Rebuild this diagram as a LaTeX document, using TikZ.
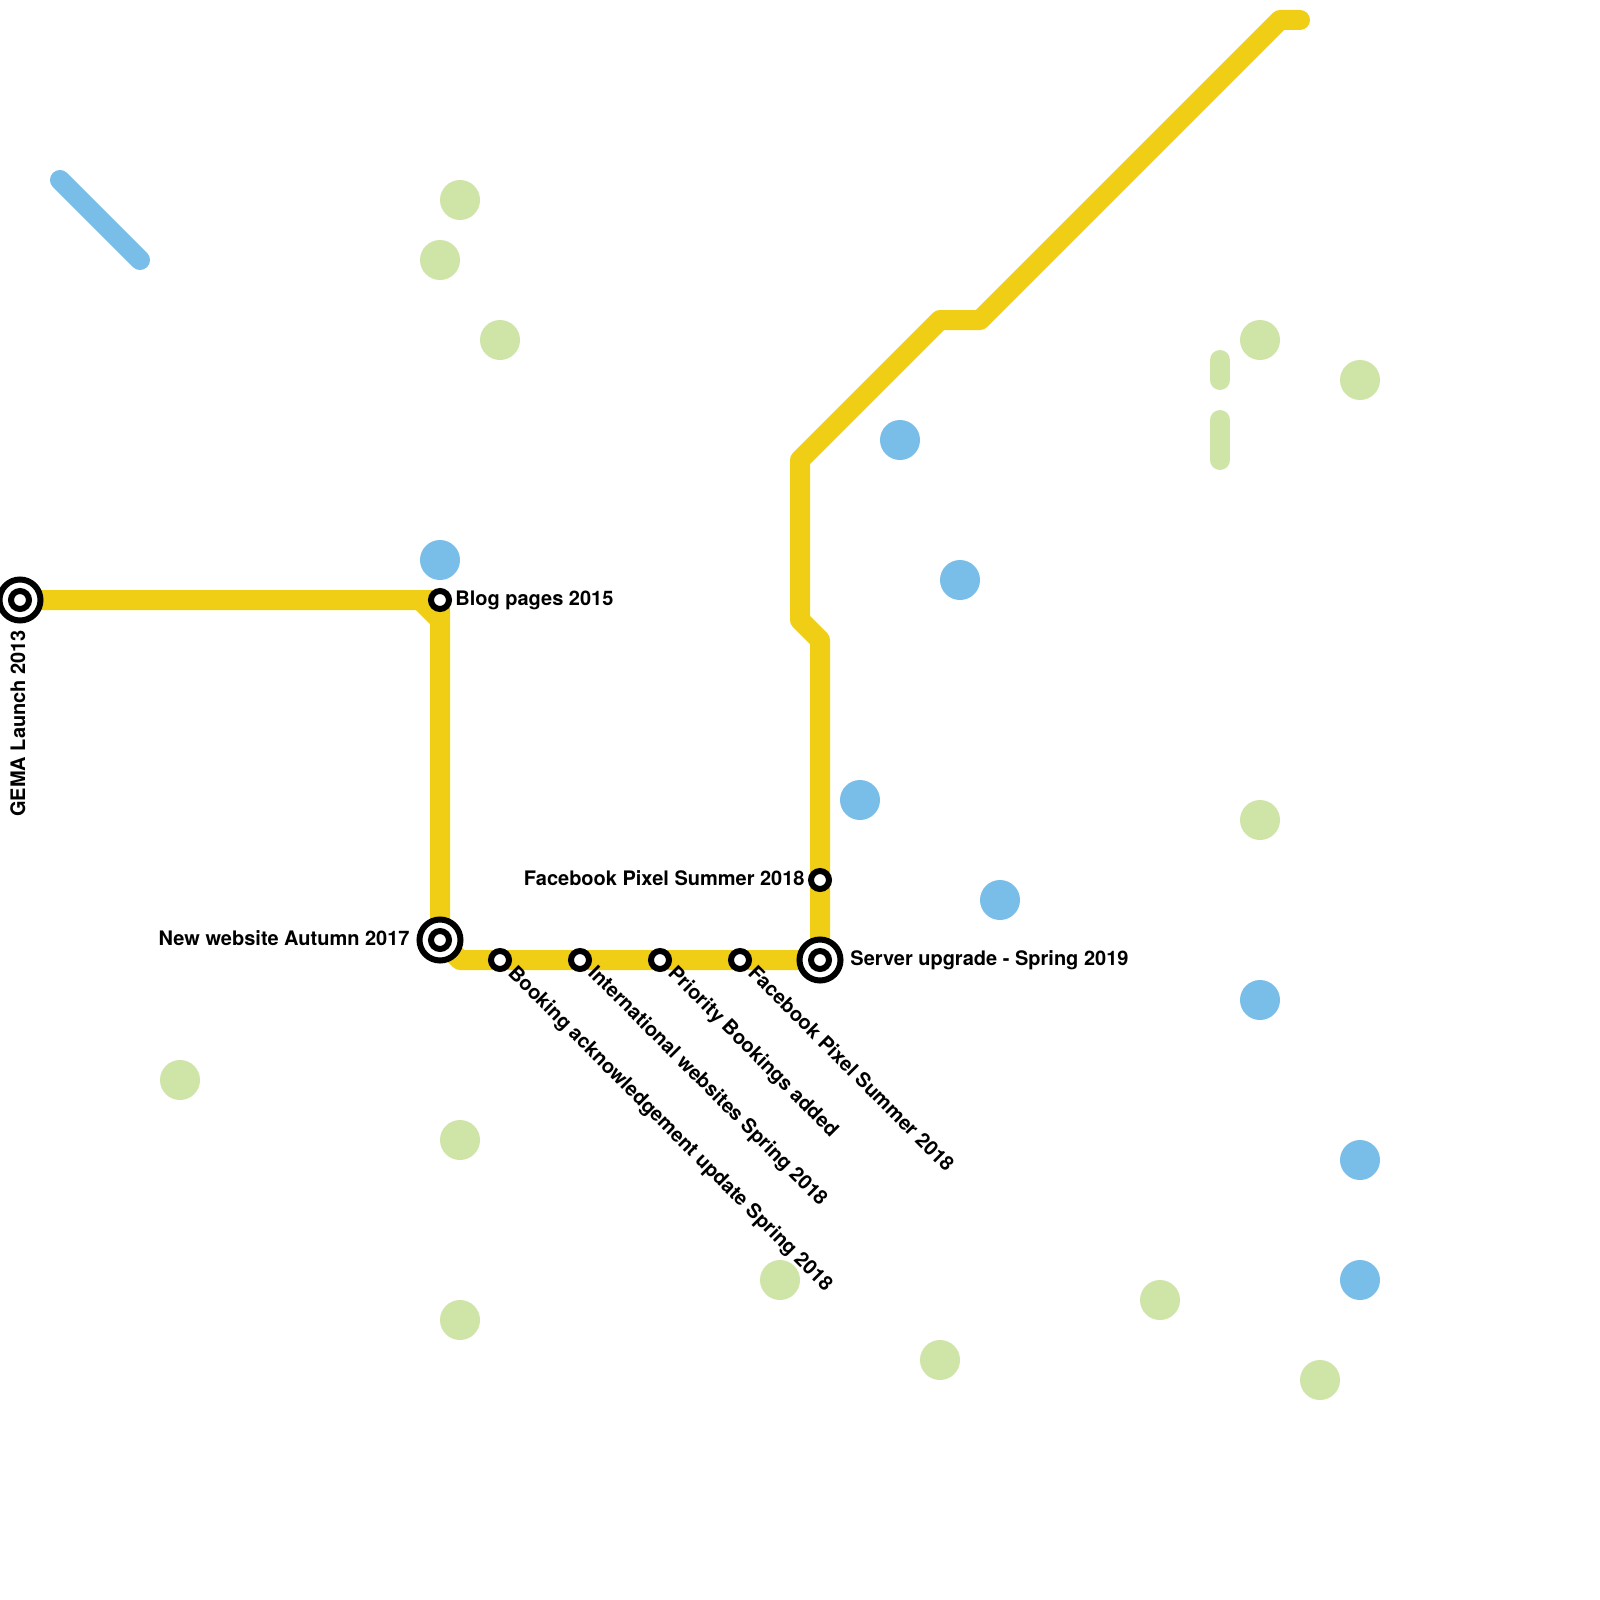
\documentclass[tikz,border=0pt]{standalone}
\usepackage{xcolor}
\usepackage{fontspec}
\setmainfont{TeX Gyre Heros}
\usetikzlibrary{positioning, backgrounds}
\definecolor{metroyellow}{HTML}{F0CE15}
\definecolor{metroblue}{HTML}{79BDE9}
\definecolor{metrogreen}{HTML}{CFE4A7}

\tikzset{
    metroline/.style={line width=10pt, line cap=round, line join=round},
    stationdot/.style={circle, draw=black, fill=white, line width=3pt, minimum size=9pt, inner sep=0pt, outer sep=0pt},
    hubring/.style={circle, draw=black, fill=white, line width=3pt, minimum size=20.5pt, inner sep=0pt, outer sep=0pt},
    bluespot/.style={circle, fill=metroblue, minimum size=20pt, inner sep=0pt, outer sep=0pt},
    greenspot/.style={circle, fill=metrogreen, minimum size=20pt, inner sep=0pt, outer sep=0pt},
    stoplabel/.style={font=\fontsize{10}{12}\selectfont\bfseries, inner sep=0pt, text height=7.2pt, text depth=2.1pt},
    slantlabel/.style={stoplabel, rotate=-45, anchor=west},
}

\begin{document}
\begin{tikzpicture}[x=0.5pt, y=-0.5pt]
    \useasboundingbox (0,0) rectangle (1600,1600);

    % stations
    \node[hubring] (gema) at (20,600) {};
    \node[stationdot] (gemacore) at (gema) {};
    \node[stationdot] (blog) at (440,600) {};
    \node[hubring] (newsite) at (440,940) {};
    \node[stationdot] (newsitecore) at (newsite) {};
    \node[stationdot] (booking) at (500,960) {};
    \node[stationdot] (intl) at (580,960) {};
    \node[stationdot] (priority) at (660,960) {};
    \node[stationdot] (pixelb) at (740,960) {};
    \node[stationdot] (pixela) at (820,880) {};
    \node[hubring] (server) at (820,960) {};
    \node[stationdot] (servercore) at (server) {};

    % bends of the lines
    \coordinate (bendga) at (420,600);
    \coordinate (bendgb) at (440,620);
    \coordinate (bendgc) at (460,960);
    \coordinate (bendsa) at (820,640);
    \coordinate (bendsb) at (800,620);
    \coordinate (bendsc) at (800,460);
    \coordinate (bendsd) at (940,320);
    \coordinate (bendse) at (980,320);
    \coordinate (bendsf) at (1280,20);
    \coordinate (lineend) at (1300,20);
    \coordinate (bluestart) at (60,180);
    \coordinate (blueend) at (140,260);
    \coordinate (greena) at (1220,360);
    \coordinate (greenb) at (1220,380);
    \coordinate (greenc) at (1220,420);
    \coordinate (greend) at (1220,460);

    \begin{pgfonlayer}{background}
        \draw[metroline, metroyellow] (gema.center) -- (blog.center) -- (newsite.center) -- (bendgc) -- (server.center)
            -- (bendsa) -- (bendsb) -- (bendsc) -- (bendsd) -- (bendse) -- (bendsf) -- (lineend);
        \draw[metroline, metroyellow] (bendga) -- (bendgb);
        \draw[metroline, metroblue] (bluestart) -- (blueend);
        \draw[metroline, metrogreen] (greena) -- (greenb);
        \draw[metroline, metrogreen] (greenc) -- (greend);
    \end{pgfonlayer}

    % blue spots
    \node[bluespot] (bluea) at (440,560) {};
    \node[bluespot] (blueb) at (900,440) {};
    \node[bluespot] (bluec) at (960,580) {};
    \node[bluespot] (blued) at (860,800) {};
    \node[bluespot] (bluee) at (1000,900) {};
    \node[bluespot] (bluef) at (1260,1000) {};
    \node[bluespot] (blueg) at (1360,1160) {};
    \node[bluespot] (blueh) at (1360,1280) {};

    % green spots
    \node[greenspot] (spota) at (460,200) {};
    \node[greenspot] (spotb) at (440,260) {};
    \node[greenspot] (spotc) at (500,340) {};
    \node[greenspot] (spotd) at (1260,340) {};
    \node[greenspot] (spote) at (1360,380) {};
    \node[greenspot] (spotf) at (1260,820) {};
    \node[greenspot] (spotg) at (180,1080) {};
    \node[greenspot] (spoth) at (460,1140) {};
    \node[greenspot] (spoti) at (460,1320) {};
    \node[greenspot] (spotj) at (780,1280) {};
    \node[greenspot] (spotk) at (940,1360) {};
    \node[greenspot] (spotl) at (1160,1300) {};
    \node[greenspot] (spotm) at (1320,1380) {};

    % labels
    \node[stoplabel, rotate=90, anchor=east] (gemalabel) at ([yshift=-14.75pt]gema.center) {GEMA Launch 2013};
    \node[stoplabel, right=3pt of blog] (bloglabel) {Blog pages 2015};
    \node[stoplabel, left=4.75pt of newsite] (newsitelabel) {New website Autumn 2017};
    \node[stoplabel, left=3pt of pixela] (pixelalabel) {Facebook Pixel Summer 2018};
    \node[stoplabel, right=4.75pt of server] (serverlabel) {Server upgrade - Spring 2019};
    \node[slantlabel] (bookinglabel) at ([shift={(5.25pt,-5.25pt)}]booking.center) {Booking acknowledgement update Spring 2018};
    \node[slantlabel] (intllabel) at ([shift={(5.25pt,-5.25pt)}]intl.center) {International websites Spring 2018};
    \node[slantlabel] (prioritylabel) at ([shift={(5.25pt,-5.25pt)}]priority.center) {Priority Bookings added};
    \node[slantlabel] (pixelblabel) at ([shift={(5.25pt,-5.25pt)}]pixelb.center) {Facebook Pixel Summer 2018};
\end{tikzpicture}
\end{document}
